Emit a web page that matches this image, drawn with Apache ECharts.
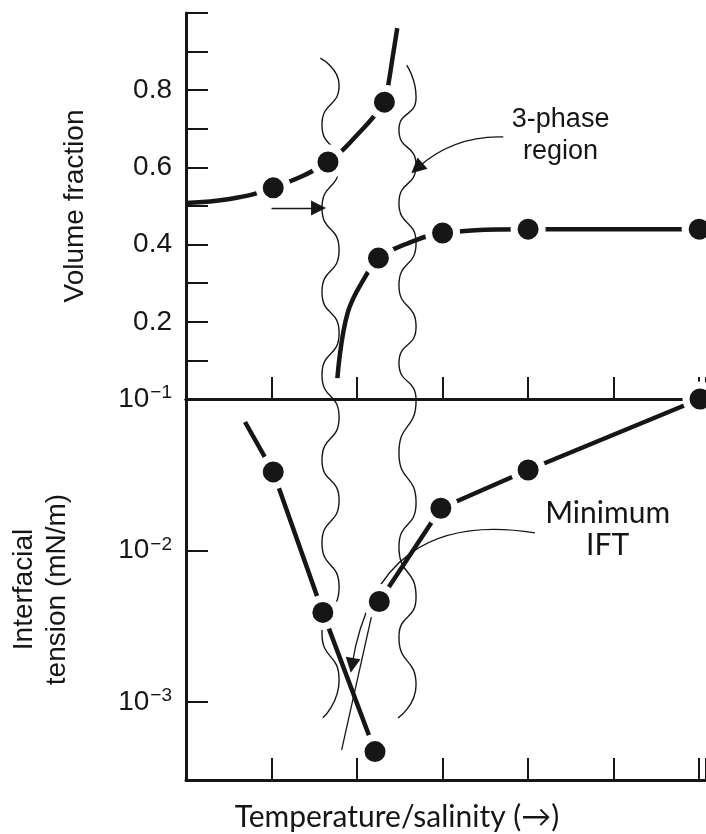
<!DOCTYPE html>
<html>
<head>
<meta charset="utf-8">
<script src="https://cdn.jsdelivr.net/npm/echarts@6/dist/echarts.min.js"></script>
<style>
html, body { margin: 0; padding: 0; background: #fff; }
#chart { width: 706px; height: 834px; }
</style>
</head>
<body>
<div id="chart"></div>
<script>
// Top panel: volume fraction against temperature/salinity
var upperCurveX = [0, 0.51, 1.02, 1.66, 2.0, 2.32, 2.36, 2.42, 2.47];
var upperCurveY = [0.508, 0.518, 0.547, 0.614, 0.684, 0.769, 0.808, 0.891, 0.961];
var upperDots = [2, 3, 5];			// indexes of the measured points
var lowerCurveX = [1.77, 1.89, 2.12, 2.25, 2.6, 3.0, 4.0, 6.0];
var lowerCurveY = [0.054, 0.223, 0.326, 0.365, 0.404, 0.43, 0.44, 0.44];
var lowerDots = [3, 5, 6, 7];

// Bottom panel: interfacial tension (mN/m)
var leftBranchX = [0.69, 1.02, 1.6, 2.21];
var leftBranchIFT = [0.0705, 0.033, 0.0039, 0.00047];
var leftDots = [1, 2, 3];
var rightBranchX = [2.26, 2.98, 4.0, 6.01];
var rightBranchIFT = [0.0046, 0.019, 0.034, 0.1];
var rightDots = [0, 1, 2, 3];

// Wavy boundaries of the 3-phase region (overlay units, 0..1 = top panel)
var leftWaveX = [1.57, 1.79, 1.59, 1.79, 1.59, 1.79, 1.59, 1.79, 1.59, 1.79, 1.59, 1.79, 1.59, 1.79, 1.59, 1.79, 1.6];
var leftWaveY = [0.883, 0.813, 0.71, 0.606, 0.495, 0.386, 0.277, 0.171, 0.062, -0.047, -0.158, -0.262, -0.373, -0.487, -0.606, -0.728, -0.826];
var rightWaveX = [2.58, 2.69, 2.49, 2.69, 2.49, 2.69, 2.49, 2.69, 2.49, 2.69, 2.49, 2.69, 2.49, 2.69, 2.49, 2.69, 2.48];
var rightWaveY = [0.865, 0.782, 0.697, 0.606, 0.508, 0.404, 0.295, 0.187, 0.093, -0.003, -0.14, -0.269, -0.383, -0.513, -0.617, -0.741, -0.826];

// Annotation arrows: [x1, y1, x2, y2, curveness, arrowhead]
var arrows = [
	[3.71, 0.679, 2.7, 0.598, -0.2, true],
	[1.0, 0.495, 1.55, 0.495, 0, true],
	[4.08, -0.347, 1.94, -0.69, -0.5, true],
	[2.18, -0.552, 1.82, -0.909, 0, false]
];
var noteText = ['3-phase\nregion', 'Minimum\nIFT'];
var noteX = [4.38, 4.93];
var noteY = [0.682, -0.337];

var ink = '#161616';
var helv = '"Liberation Sans", Arial, sans-serif';
var calib = 'Lato, "Open Sans", sans-serif';

function pairs(xs, ys) {
	return xs.map(function (x, i) { return [x, ys[i]]; });
}
function pick(xs, ys, idx) {
	return idx.map(function (i) { return [xs[i], ys[i]]; });
}

var chart = echarts.init(document.getElementById('chart'), null, { renderer: 'canvas' });

var curveStyle = { color: ink, width: 4.5 };
// white ring round each dot breaks the line, as in the drawing
var dotStyle = { color: ink, borderColor: '#fff', borderWidth: 7, opacity: 1 };
var waveStyle = { color: ink, width: 1.4 };

var option = {
	animation: false,
	backgroundColor: '#fff',
	grid: [
		{ left: 186, top: 13, right: 0, height: 386 },
		{ left: 186, top: 399, right: 0, height: 381 },
		{ left: 186, top: 13, right: 0, height: 767 }
	],
	xAxis: [
		{
			gridIndex: 0, type: 'value', min: 0, max: 6.08, interval: 1,
			axisLine: { lineStyle: { color: ink, width: 3 } },
			axisTick: { inside: true, length: 22, lineStyle: { color: ink, width: 2 } },
			axisLabel: { show: false }, splitLine: { show: false }
		},
		{
			gridIndex: 1, type: 'value', min: 0, max: 6.08, interval: 1,
			axisLine: { lineStyle: { color: ink, width: 3 } },
			axisTick: { inside: true, length: 22, lineStyle: { color: ink, width: 2 } },
			axisLabel: { show: false }, splitLine: { show: false },
			name: 'Temperature/salinity (\u2192)', nameLocation: 'middle', nameGap: 22,
			nameTextStyle: { fontFamily: calib, fontSize: 30, color: ink, padding: [0, 98, 0, 0] }
		},
		{
			gridIndex: 2, type: 'value', min: 0, max: 6.08, position: 'top',
			axisLine: { lineStyle: { color: ink, width: 3 } },
			axisTick: { show: false }, axisLabel: { show: false }, splitLine: { show: false }
		}
	],
	yAxis: [
		{
			gridIndex: 0, type: 'value', min: 0, max: 1, interval: 0.1,
			axisLine: { lineStyle: { color: ink, width: 3 } },
			axisTick: { inside: true, length: 22, lineStyle: { color: ink, width: 2 } },
			splitLine: { show: false },
			axisLabel: {
				margin: 14, fontFamily: helv, fontSize: 28, color: ink,
				formatter: function (v) {
					var k = Math.round(v * 10);
					return (k % 2 === 0 && k > 0 && k < 10) ? (k / 10).toFixed(1) : '';
				}
			},
			name: 'Volume fraction', nameLocation: 'middle', nameGap: 97, nameRotate: 90,
			nameTextStyle: { fontFamily: helv, fontSize: 28, color: ink }
		},
		{
			gridIndex: 1, type: 'log', min: 0.000305, max: 0.1, logBase: 10,
			axisLine: { lineStyle: { color: ink, width: 3 } },
			axisTick: { inside: true, length: 22, lineStyle: { color: ink, width: 2 } },
			splitLine: { show: false }, minorTick: { show: false },
			axisLabel: {
				margin: 14, fontFamily: helv, fontSize: 28, color: ink,
				formatter: function (v) {
					var p = Math.log10(v);
					if (Math.abs(p - Math.round(p)) > 0.01) return '';
					return '10{sup|\u2212' + Math.abs(Math.round(p)) + '}';
				},
				rich: {
					sup: { fontFamily: helv, fontSize: 19, color: ink, verticalAlign: 'top', padding: [0, 0, 12, 1] }
				}
			},
			name: 'Interfacial\ntension (mN/m)', nameLocation: 'middle', nameGap: 112, nameRotate: 90,
			nameTextStyle: { fontFamily: helv, fontSize: 28, color: ink, lineHeight: 33 }
		},
		{
			gridIndex: 2, type: 'value', min: -0.987, max: 1, show: false
		}
	],
	series: [
		{ type: 'line', xAxisIndex: 0, yAxisIndex: 0, smooth: 0.4, symbol: 'none', lineStyle: curveStyle, data: pairs(upperCurveX, upperCurveY), z: 3 },
		{ type: 'line', xAxisIndex: 0, yAxisIndex: 0, smooth: 0.4, symbol: 'none', lineStyle: curveStyle, data: pairs(lowerCurveX, lowerCurveY), z: 3 },
		{ type: 'line', xAxisIndex: 1, yAxisIndex: 1, symbol: 'none', lineStyle: curveStyle, data: pairs(leftBranchX, leftBranchIFT), z: 3 },
		{ type: 'line', xAxisIndex: 1, yAxisIndex: 1, symbol: 'none', lineStyle: curveStyle, data: pairs(rightBranchX, rightBranchIFT), z: 3 },
		{ type: 'line', xAxisIndex: 2, yAxisIndex: 2, smooth: 0.6, symbol: 'none', lineStyle: waveStyle, data: pairs(leftWaveX, leftWaveY), z: 2 },
		{ type: 'line', xAxisIndex: 2, yAxisIndex: 2, smooth: 0.6, symbol: 'none', lineStyle: waveStyle, data: pairs(rightWaveX, rightWaveY), z: 2 },
		{
			type: 'lines', coordinateSystem: 'cartesian2d', xAxisIndex: 2, yAxisIndex: 2, z: 2,
			symbolSize: [9, 15],
			data: arrows.map(function (a) {
				return {
					coords: [[a[0], a[1]], [a[2], a[3]]],
					symbol: ['none', a[5] ? 'triangle' : 'none'],
					lineStyle: { color: ink, width: 1.3, curveness: a[4], opacity: 1 }
				};
			})
		},
		{
			type: 'scatter', xAxisIndex: 0, yAxisIndex: 0, symbolSize: 28, itemStyle: dotStyle, z: 4,
			data: pick(upperCurveX, upperCurveY, upperDots).concat(pick(lowerCurveX, lowerCurveY, lowerDots))
		},
		{
			type: 'scatter', xAxisIndex: 1, yAxisIndex: 1, symbolSize: 28, itemStyle: dotStyle, z: 4,
			data: pick(leftBranchX, leftBranchIFT, leftDots).concat(pick(rightBranchX, rightBranchIFT, rightDots))
		},
		{
			type: 'scatter', xAxisIndex: 2, yAxisIndex: 2, symbolSize: 1, z: 5,
			itemStyle: { color: 'rgba(0,0,0,0)', opacity: 1 },
			label: { show: true, position: 'inside', formatter: '{b}', color: ink, lineHeight: 32, opacity: 1 },
			data: noteText.map(function (t, i) {
				return {
					name: t, value: [noteX[i], noteY[i]],
					label: i === 0 ? { fontFamily: helv, fontSize: 27 } : { fontFamily: calib, fontSize: 30 }
				};
			})
		}
	]
};

chart.setOption(option);
</script>
</body>
</html>
